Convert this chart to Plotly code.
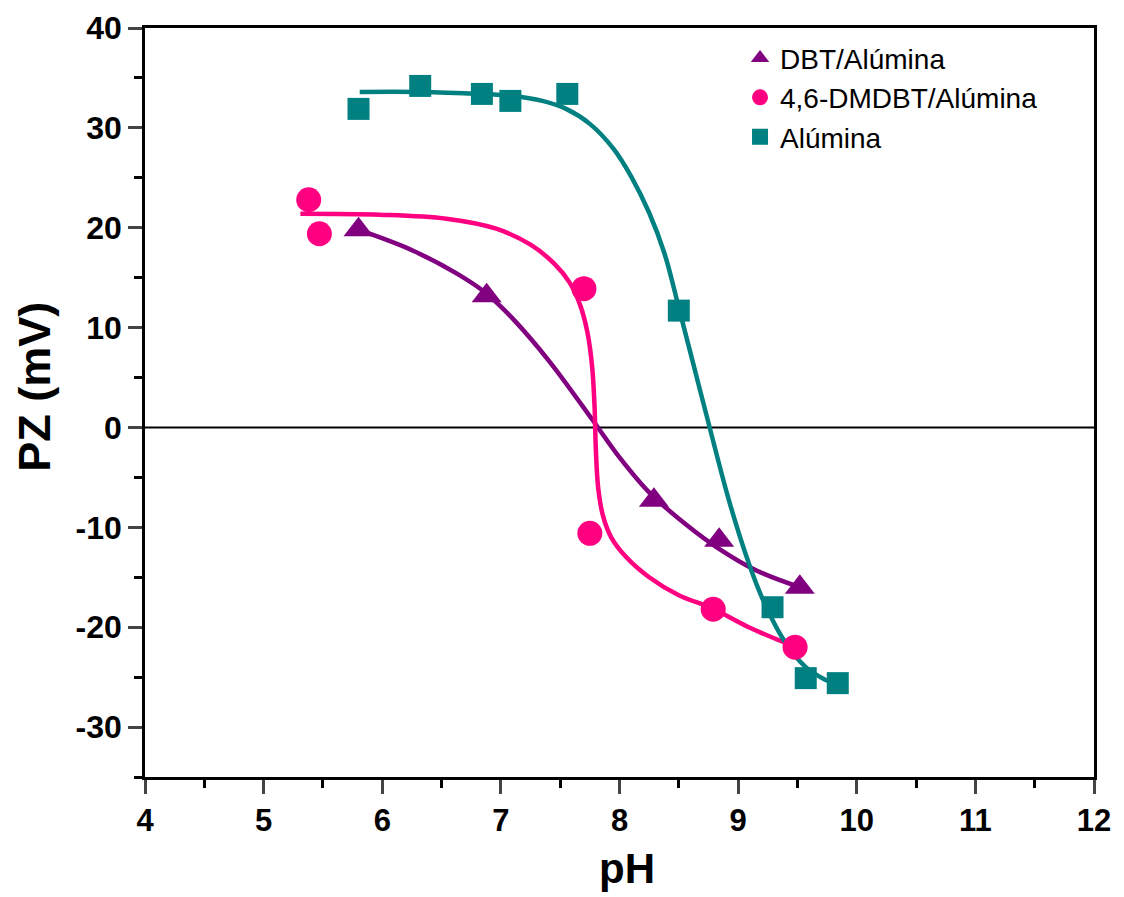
import plotly.graph_objects as go

# Measured data
dbt_ph = [5.80, 6.88, 8.29, 8.84, 9.52]
dbt_pz = [19.8, 13.2, -7.3, -11.3, -16.0]

dmdbt_ph = [5.38, 5.47, 7.70, 7.75, 8.79, 9.48]
dmdbt_pz = [22.8, 19.4, 13.9, -10.6, -18.2, -22.0]

alu_ph = [5.80, 6.32, 6.84, 7.08, 7.56, 8.50, 9.29, 9.57, 9.84]
alu_pz = [31.9, 34.2, 33.4, 32.7, 33.4, 11.7, -18.0, -25.1, -25.6]

# Fitted curves
dbt_fit_ph = [5.87, 6.26, 6.63, 6.88, 7.10, 7.41, 7.77, 8.00, 8.25, 8.59, 8.82, 9.15, 9.52]
dbt_fit_pz = [19.5, 17.7, 15.4, 13.4, 10.9, 6.6, 0.8, -3.0, -6.5, -10.0, -12.0, -14.3, -16.0]

dmdbt_fit_ph = [5.31, 5.98, 6.54, 6.96, 7.25, 7.45, 7.58, 7.67, 7.73, 7.77, 7.79, 7.80,
                7.82, 7.86, 7.93, 8.05, 8.25, 8.50, 8.78, 9.09, 9.49]
dmdbt_fit_pz = [21.4, 21.3, 20.9, 19.9, 18.3, 16.4, 14.5, 12.2, 9.5, 6.0, 2.0, -2.0,
                -6.0, -8.8, -11.0, -12.9, -15.0, -16.8, -18.1, -20.0, -22.0]

alu_fit_ph = [5.81, 6.30, 6.82, 7.10, 7.35, 7.55, 7.75, 7.95, 8.10, 8.25, 8.38, 8.50,
              8.63, 8.76, 8.93, 9.09, 9.20, 9.37, 9.57, 9.74, 9.84]
alu_fit_pz = [33.6, 33.6, 33.4, 33.2, 32.7, 31.9, 30.4, 27.9, 25.1, 21.5, 17.4, 12.0,
              6.0, 0.0, -7.6, -13.6, -17.0, -21.0, -24.0, -25.3, -25.8]

y_ticks = [40, 30, 20, 10, 0, -10, -20, -30]
y_ticktext = ["40", "30", "20", "10", "0", "-10", "-20", "-30"]
x_ticks = [4, 5, 6, 7, 8, 9, 10, 11, 12]

PURPLE = "#800080"
PINK = "#FF0080"
TEAL = "#008080"
FONT = "Liberation Sans, Arial, sans-serif"

fig = go.Figure()

# zero line
fig.add_trace(go.Scatter(x=[4, 12], y=[0, 0], mode="lines",
                         line=dict(color="black", width=2), showlegend=False,
                         hoverinfo="skip"))

for fx, fy, c in [(dbt_fit_ph, dbt_fit_pz, PURPLE),
                  (dmdbt_fit_ph, dmdbt_fit_pz, PINK),
                  (alu_fit_ph, alu_fit_pz, TEAL)]:
    fig.add_trace(go.Scatter(x=fx, y=fy, mode="lines",
                             line=dict(color=c, width=4.5, shape="spline", smoothing=1.0),
                             showlegend=False, hoverinfo="skip"))

fig.add_trace(go.Scatter(x=dbt_ph, y=dbt_pz, mode="markers", name="DBT/Alúmina",
                         marker=dict(symbol="triangle-up", size=26, color=PURPLE)))
fig.add_trace(go.Scatter(x=dmdbt_ph, y=dmdbt_pz, mode="markers", name="4,6-DMDBT/Alúmina",
                         marker=dict(symbol="circle", size=25, color=PINK)))
fig.add_trace(go.Scatter(x=alu_ph, y=alu_pz, mode="markers", name="Alúmina",
                         marker=dict(symbol="square", size=22, color=TEAL)))

fig.update_layout(
    width=1124, height=897,
    margin=dict(l=137, r=38, t=20, b=128, autoexpand=False),
    plot_bgcolor="white", paper_bgcolor="white",
    font=dict(family=FONT, color="black"),
    legend=dict(x=0.627, y=0.993, xanchor="left", yanchor="top",
                bgcolor="rgba(0,0,0,0)", font=dict(size=28, family=FONT),
                tracegroupgap=0, itemsizing="trace"),
    xaxis=dict(range=[4, 12], tickvals=x_ticks, ticks="outside", ticklen=14, tickwidth=2.5,
               showline=True, linecolor="black", linewidth=2.5, mirror=True,
               showgrid=False, zeroline=False, automargin=False,
               tickfont=dict(size=31, family=FONT, weight="bold"),
               minor=dict(dtick=0.5, ticks="outside", ticklen=8, tickwidth=2.5, tickcolor="black")),
    yaxis=dict(range=[-35, 40], tickvals=y_ticks, ticktext=y_ticktext, ticks="outside",
               ticklen=14, tickwidth=2.5,
               showline=True, linecolor="black", linewidth=2.5, mirror=True,
               showgrid=False, zeroline=False, automargin=False,
               tickfont=dict(size=32, family=FONT, weight="bold"),
               minor=dict(dtick=5, ticks="outside", ticklen=8, tickwidth=2.5, tickcolor="black")),
    annotations=[
        dict(text="<b>pH</b>", xref="paper", yref="paper", x=0.508, y=-0.122,
             xanchor="center", yanchor="middle", showarrow=False,
             font=dict(size=42, family=FONT)),
        dict(text="<b>PZ (mV)</b>", xref="paper", yref="paper", x=-0.116, y=0.521,
             xanchor="center", yanchor="middle", showarrow=False, textangle=-90,
             font=dict(size=45, family=FONT)),
    ],
)

fig.write_html("out.html")
